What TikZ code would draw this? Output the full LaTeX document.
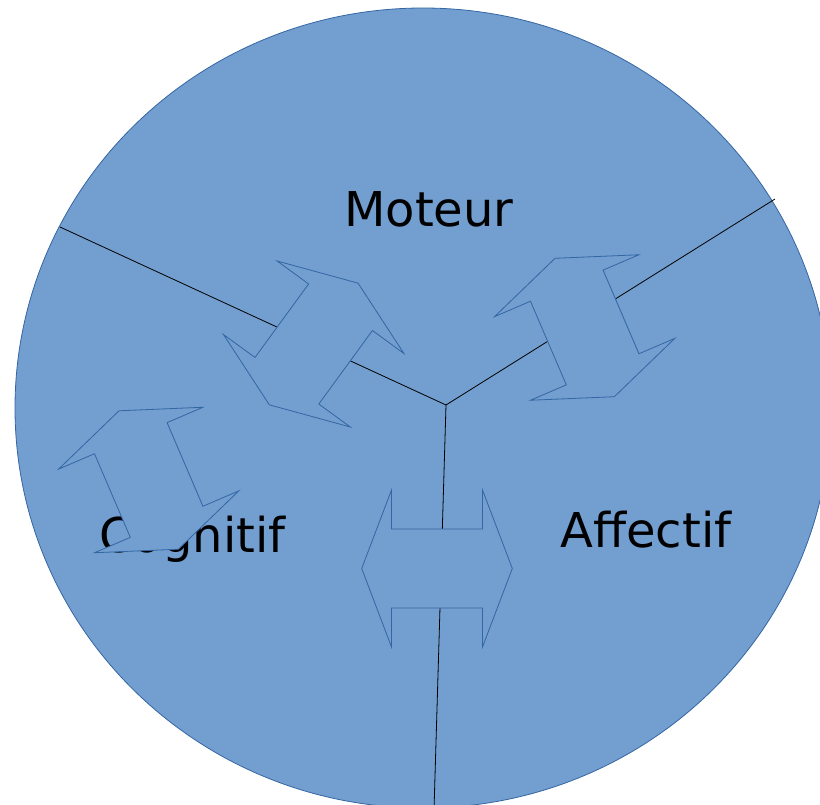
\documentclass[tikz,border=0pt]{standalone}
\usepackage{fontspec}
\setmainfont{DejaVu Sans}
\usetikzlibrary{shapes.geometric}
\definecolor{discfill}{HTML}{729FCF}
\definecolor{discline}{HTML}{3465A4}
\tikzset{
  disc/.style={fill=discfill, draw=discline, line width=0.8pt},
  divider/.style={draw=black, line width=0.8pt},
  label/.style={font=\fontsize{48}{56}\selectfont, text=black, anchor=base, inner sep=0pt},
  arrowshape/.style={fill=discfill, draw=discline, line width=0.8pt, line join=miter},
  dblarrow/.pic={
    \path[arrowshape] (-75.3,0) -- (-45.5,-78.5) -- (-45.5,-39.5) -- (45.5,-39.5)
      -- (45.5,-78.5) -- (75.3,0) -- (45.5,78.5) -- (45.5,39.5) -- (-45.5,39.5)
      -- (-45.5,78.5) -- cycle;
  }
}
\begin{document}
\begin{tikzpicture}[x=1pt,y=-1pt]
\useasboundingbox (0,0) rectangle (820,805);
\clip (0,0) rectangle (820,805);
% disc
\node[disc, ellipse, minimum width=816pt, minimum height=800pt, inner sep=0pt] (disc) at (423,408) {};
% dividing lines
\coordinate (hub) at (446,405);
\coordinate (endL) at (60,227);
\coordinate (endR) at (775,199);
\coordinate (endB) at (434,810);
\draw[divider] (hub) -- (endL);
\draw[divider] (hub) -- (endR);
\draw[divider] (hub) -- (endB);
% labels
\node[label] (moteur) at (429,227) {Moteur};
\node[label] (affectif) at (646,547) {Affectif};
\node[label] (cognitif) at (192.5,552) {Cognitif};
% double arrows
\pic[rotate=53.9] (aUL) at (313.7,344) {dblarrow};
\pic[rotate=113.2] (aUR) at (584.7,327.5) {dblarrow};
\pic[rotate=113.2] (aL) at (148.7,480) {dblarrow};
\pic (aB) at (437,568.5) {dblarrow};
\end{tikzpicture}
\end{document}
